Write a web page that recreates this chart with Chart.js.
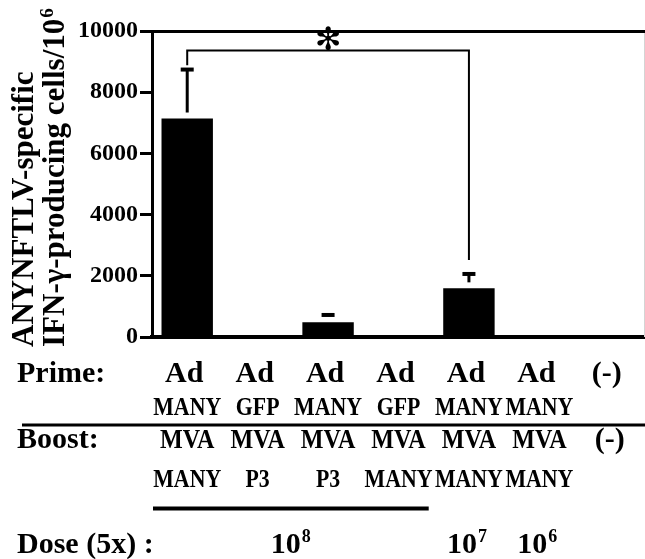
<!DOCTYPE html>
<html>
<head>
<meta charset="utf-8">
<script src="https://cdn.jsdelivr.net/npm/chart.js@4.4.1/dist/chart.umd.min.js"></script>
<style>
  body { margin: 0; background: #fff; }
  canvas { display: block; }
</style>
</head>
<body>
<canvas id="elispotChart" width="645" height="559"></canvas>
<script>
// groups along the x axis (prime / boost regimen)
const primeVector = ["Ad", "Ad", "Ad", "Ad", "Ad", "Ad", "(-)"];
const primeInsert = ["MANY", "GFP", "MANY", "GFP", "MANY", "MANY", ""];
const boostVector = ["MVA", "MVA", "MVA", "MVA", "MVA", "MVA", "(-)"];
const boostInsert = ["MANY", "P3", "P3", "MANY", "MANY", "MANY", ""];

// IFN-g producing cells per 10^6, mean and SEM (upper bar only)
const meanSfc = [7140, 0, 480, 0, 1590, 0, 0];
const semSfc = [1600, 0, 240, 0, 470, 0, 0];

// dose row: exponent and which groups it covers
const doseExponent = ["8", "7", "6"];
const doseFirst = [0, 4, 5];
const doseLast = [3, 4, 5];

// significance bracket between group 1 and group 5
const sigGroups = [0, 4];
const sigLevel = 9360;
const sigEnds = [8880, 2520];

const yTicks = [0, 2000, 4000, 6000, 8000, 10000];

const serif = '"Liberation Serif", "Times New Roman", serif';

function put(ctx, text, x, y, size, align, squeeze) {
  ctx.save();
  ctx.font = "bold " + size + "px " + serif;
  ctx.textAlign = align;
  ctx.textBaseline = "alphabetic";
  ctx.translate(x, y);
  ctx.scale(squeeze || 1, 1);
  ctx.fillText(text, 0, 0);
  ctx.restore();
}

// base text with a raised exponent, e.g. 10 + "8"
function putPower(ctx, base, exp, x, y, size, align) {
  const big = "bold " + size + "px " + serif;
  const small = "bold " + Math.round(size * 0.6) + "px " + serif;
  ctx.save();
  ctx.textAlign = "left";
  ctx.textBaseline = "alphabetic";
  ctx.font = big;
  const wb = ctx.measureText(base).width;
  ctx.font = small;
  const we = ctx.measureText(exp).width;
  const left = align === "center" ? x - (wb + we + 1) / 2 : x;
  ctx.font = big;
  ctx.fillText(base, left, y);
  ctx.font = small;
  ctx.fillText(exp, left + wb + 1, y - size * 0.36);
  ctx.restore();
}

const errorBars = {
  id: "errorBars",
  afterDatasetsDraw(chart) {
    const { ctx } = chart;
    const x = chart.scales.x, y = chart.scales.y;
    ctx.save();
    ctx.strokeStyle = "#000";
    meanSfc.forEach((m, i) => {
      if (!semSfc[i]) return;
      const cx = x.getPixelForValue(i);
      const top = y.getPixelForValue(m + semSfc[i]);
      const base = y.getPixelForValue(m) - 6;
      if (base > top + 2) {
        ctx.lineWidth = 3;
        ctx.beginPath();
        ctx.moveTo(cx, base);
        ctx.lineTo(cx, top);
        ctx.stroke();
      }
      ctx.lineWidth = 4;
      ctx.beginPath();
      ctx.moveTo(cx - 6.5, top);
      ctx.lineTo(cx + 6.5, top);
      ctx.stroke();
    });

    // bracket + asterisk
    const x1 = x.getPixelForValue(sigGroups[0]);
    const x2 = x.getPixelForValue(sigGroups[1]);
    const yl = y.getPixelForValue(sigLevel);
    ctx.lineWidth = 2;
    ctx.beginPath();
    ctx.moveTo(x1, y.getPixelForValue(sigEnds[0]));
    ctx.lineTo(x1, yl);
    ctx.lineTo(x2, yl);
    ctx.lineTo(x2, y.getPixelForValue(sigEnds[1]));
    ctx.stroke();
    ctx.fillStyle = "#000";
    ctx.font = 'bold 32px "DejaVu Sans"';
    ctx.textAlign = "center";
    ctx.textBaseline = "middle";
    ctx.fillText("\u273B", (x1 + x2) / 2, yl - 9);

    // faint right frame
    ctx.strokeStyle = "#d4d4d4";
    ctx.lineWidth = 1;
    ctx.beginPath();
    ctx.moveTo(644.5, chart.chartArea.top + 2);
    ctx.lineTo(644.5, chart.chartArea.bottom);
    ctx.stroke();
    ctx.restore();
  }
};

const regimenTable = {
  id: "regimenTable",
  afterDraw(chart) {
    const { ctx } = chart;
    const x = chart.scales.x;
    const half = (x.getPixelForValue(1) - x.getPixelForValue(0)) / 2;
    ctx.save();
    ctx.fillStyle = "#000";
    ctx.strokeStyle = "#000";

    // y axis title, rotated, two lines starting at the bottom
    ctx.save();
    ctx.translate(33, 347);
    ctx.rotate(-Math.PI / 2);
    ctx.font = "bold 31px " + serif;
    ctx.textAlign = "left";
    ctx.textBaseline = "alphabetic";
    ctx.fillText("ANYNFTLV-specific", 0, 0);
    putPower(ctx, "IFN-\u03B3-producing cells/10", "6", 0, 31, 31, "left");
    ctx.restore();

    put(ctx, "Prime:", 17, 382, 30, "left");
    primeVector.forEach((t, i) => put(ctx, t, x.getPixelForValue(i) - 3, 382, 30, "center"));
    primeInsert.forEach((t, i) => put(ctx, t, x.getPixelForValue(i), 415, 26, "center", 0.84));

    ctx.lineWidth = 3;
    ctx.beginPath();
    ctx.moveTo(22, 425);
    ctx.lineTo(645, 425);
    ctx.stroke();

    put(ctx, "Boost:", 17, 448, 30, "left");
    boostVector.forEach((t, i) => {
      const neg = t === "(-)";
      put(ctx, t, x.getPixelForValue(i), 448, neg ? 30 : 28, "center", neg ? 1 : 0.86);
    });
    boostInsert.forEach((t, i) => put(ctx, t, x.getPixelForValue(i), 487, 26, "center", 0.84));

    put(ctx, "Dose (5x) :", 17, 553, 30, "left");
    doseExponent.forEach((e, k) => {
      const a = x.getPixelForValue(doseFirst[k]);
      const b = x.getPixelForValue(doseLast[k]);
      if (doseLast[k] > doseFirst[k]) {
        ctx.lineWidth = 4;
        ctx.beginPath();
        ctx.moveTo(a - half + 1, 508.5);
        ctx.lineTo(b + half - 5, 508.5);
        ctx.stroke();
      }
      putPower(ctx, "10", e, (a + b) / 2 - 2, 553, 30, "center");
    });
    ctx.restore();
  }
};

Chart.defaults.color = "#000";

new Chart(document.getElementById("elispotChart"), {
  type: "bar",
  data: {
    labels: primeVector.map((p, i) => p + " " + primeInsert[i] + " / " + boostVector[i] + " " + boostInsert[i]),
    datasets: [{
      data: meanSfc,
      backgroundColor: "#000",
      borderWidth: 0,
      barPercentage: 0.73,
      categoryPercentage: 1.0
    }]
  },
  options: {
    responsive: false,
    animation: false,
    devicePixelRatio: 1,
    layout: { padding: { top: 31, bottom: 222, left: 0, right: 0 } },
    plugins: { legend: { display: false }, tooltip: { enabled: false } },
    scales: {
      x: {
        ticks: { display: false },
        grid: { display: false },
        border: { display: true, color: "#000", width: 4 },
        afterFit: s => { s.height = 0; }
      },
      y: {
        min: 0,
        max: 10000,
        afterBuildTicks: s => { s.ticks = yTicks.map(v => ({ value: v })); },
        afterFit: s => { s.width = 152; },
        ticks: {
          padding: 2,
          callback: v => String(v),
          font: { family: serif, size: 24, weight: "bold" }
        },
        grid: {
          color: c => (c.tick && c.tick.value === 10000 ? "#000" : "rgba(0,0,0,0)"),
          lineWidth: 3,
          tickColor: "#000",
          tickWidth: 3,
          tickLength: 12
        },
        border: { display: true, color: "#000", width: 3 }
      }
    }
  },
  plugins: [errorBars, regimenTable]
});
</script>
</body>
</html>
